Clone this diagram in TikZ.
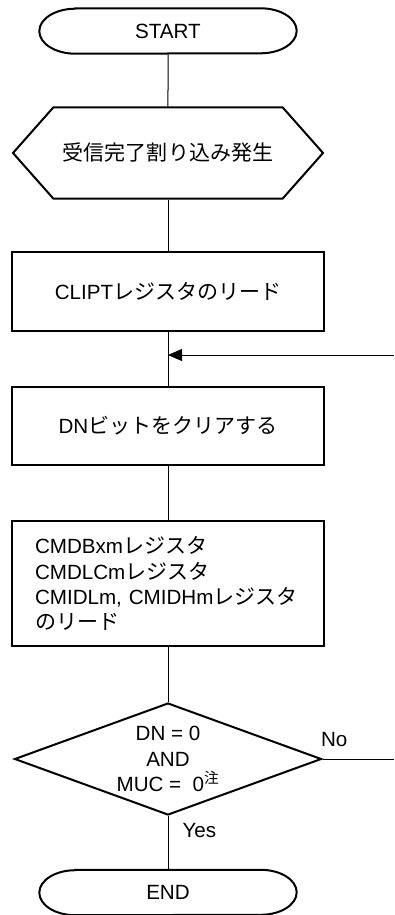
\documentclass[tikz,border=0pt]{standalone}
\usepackage{fontspec}
\setmainfont{Liberation Sans}
\newfontfamily\jp[Scale=1.02]{Noto Sans CJK JP}
\usetikzlibrary{arrows.meta,positioning,shapes.geometric,shapes.symbols}
\newcommand{\ja}[1]{{\jp #1}}

\begin{document}
\begin{tikzpicture}[x=1pt,y=-1pt,>={Triangle[length=14pt,width=12pt]},
 every node/.style={font=\fontsize{20.6}{25.2}\selectfont},
 box/.style={draw,line width=2pt,minimum width=312pt,inner sep=0pt},
 hexa/.style={signal,signal to=west and east,signal pointer angle=97,draw,line width=2pt,
  minimum width=310pt,minimum height=91pt,inner sep=0pt},
 decision/.style={diamond,draw,line width=2pt,aspect=2.74,minimum width=307pt,
  minimum height=112pt,inner sep=0pt,align=center},
 term/.style={minimum width=257pt,minimum height=45pt,inner sep=0pt,
  append after command={\pgfextra{\draw[line width=2pt]
   ([xshift=36pt]\tikzlastnode.north west) -- ([xshift=-36pt]\tikzlastnode.north east)
   arc[start angle=90,end angle=-90,x radius=36pt,y radius=22.5pt]
   -- ([xshift=36pt]\tikzlastnode.south west)
   arc[start angle=270,end angle=90,x radius=36pt,y radius=22.5pt] -- cycle;}}},
 conn/.style={line width=1pt},
 lab/.style={inner sep=0pt}]
\useasboundingbox (0,0) rectangle (394,915);
\node[term] (start) at (168,31) {START};
\node[hexa] (irq) at (168,153) {\ja{受信完了割り込み発生}};
\node[box,minimum height=79pt] (clipt) at (168,291.5) {CLIPT\ja{レジスタのリード}};
\coordinate (back) at (394,355);
\node[box,minimum height=78pt] (dnclr) at (168,426) {DN\ja{ビットをクリアする}};
\node[box,minimum height=125pt,text width=266pt,align=left,inner xsep=23pt] (cmdread) at (168,583.5)
 {CMDBxm\ja{レジスタ}\\CMDLCm\ja{レジスタ}\\CMIDLm,~CMIDHm\ja{レジスタ}\\\ja{のリード}};
\node[decision] (dncheck) at (168,759) {DN = 0\\AND\\MUC =\ \ 0\textsuperscript{\ja{注}}};
\node[term] (stop) at (168,892.5) {END};
% connectors
\draw[conn] (start) -- (irq);
\draw[conn] (irq) -- (clipt);
\draw[conn] (clipt) -- (dnclr);
\draw[conn,->] (back) -- (back -| clipt);
\draw[conn] (dnclr) -- (cmdread);
\draw[conn] (cmdread) -- (dncheck);
\draw[conn] (dncheck.east) -- node[lab,pos=0,anchor=base west,xshift=-2pt,yshift=13pt] {No} (dncheck.east -| back);
\draw[conn] (dncheck) -- node[lab,pos=0,anchor=base west,xshift=14pt,yshift=-21pt] {Yes} (stop);
\end{tikzpicture}
\end{document}
